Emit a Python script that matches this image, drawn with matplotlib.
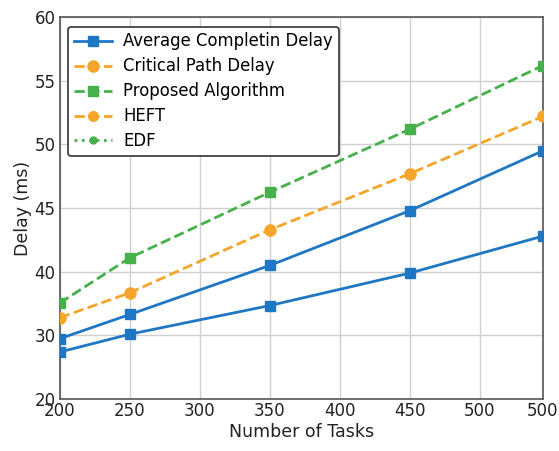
import numpy as np
import matplotlib
matplotlib.use("Agg")
import matplotlib.pyplot as plt

# Data
tasks = [200, 250, 350, 450, 545]  # last point sits at the right-edge tick labelled "500"
avg_upper = [29.5, 33.3, 40.5, 44.8, 49.5]
avg_lower = [27.4, 30.2, 34.7, 39.8, 42.8]
critical = [32.8, 36.7, 43.3, 47.7, 52.2]
proposed = [35.1, 41.1, 46.25, 51.2, 56.2]

xticks = [200, 250, 300, 350, 400, 450, 500, 545]
xticklabels = ["200", "250", "300", "350", "400", "450", "500", "500"]
yticks = [20, 30, 40, 45, 50, 55, 60]

blue = "#1f77c4"
orange = "#f5a52a"
green = "#46b04a"

# piecewise-linear y scale: ticks equally spaced on screen
ypos = np.arange(len(yticks), dtype=float)
def fwd(v):
    return np.interp(v, yticks, ypos)
def inv(p):
    return np.interp(p, ypos, yticks)

fig = plt.figure(figsize=(5.59, 4.51), dpi=100)
ax = fig.add_axes([0.107, 0.115, 0.864, 0.847])
ax.set_yscale("function", functions=(fwd, inv))

ax.plot(tasks, avg_upper, color=blue, lw=2, marker="s", ms=7, label="Average Completin Delay", zorder=3)
ax.plot(tasks, avg_lower, color=blue, lw=2, marker="s", ms=7, zorder=3)
ax.plot(tasks, critical, color=orange, lw=2, ls="--", marker="o", ms=8, label="Critical Path Delay", zorder=3)
ax.plot(tasks, proposed, color=green, lw=2, ls="--", marker="s", ms=7, label="Proposed Algorithm", zorder=3)
ax.plot([], [], color=orange, lw=2, ls="--", marker="o", ms=7, label="HEFT")
ax.plot([], [], color=green, lw=2, ls=":", marker="o", ms=5, label="EDF")

ax.set_xlim(200, 545)
ax.set_ylim(20, 60)
ax.set_xticks(xticks)
ax.set_xticklabels(xticklabels)
ax.set_yticks(yticks)
ax.set_yticklabels([str(v) for v in yticks])
ax.minorticks_off()
ax.grid(True, color="#d0d0d0", lw=1)
ax.set_axisbelow(True)
ax.tick_params(axis="both", labelsize=12, length=0, pad=3, colors="#222222")
ax.tick_params(axis="x", pad=2)
for s in ax.spines.values():
    s.set_color("#555555")
    s.set_linewidth(1.2)

ax.set_xlabel("Number of Tasks", fontsize=12.5, labelpad=2, color="#222222")
ax.set_ylabel("Delay (ms)", fontsize=12.5, labelpad=2, color="#222222")

leg = ax.legend(loc="upper left", fontsize=11.9, frameon=True, fancybox=True,
                edgecolor="#333333", framealpha=1, handlelength=2.3,
                handletextpad=0.7, borderaxespad=0.0, labelspacing=0.42,
                borderpad=0.35, bbox_to_anchor=(0.017, 0.975))
leg.get_frame().set_linewidth(1.2)

fig.savefig("out.png", dpi=100)
